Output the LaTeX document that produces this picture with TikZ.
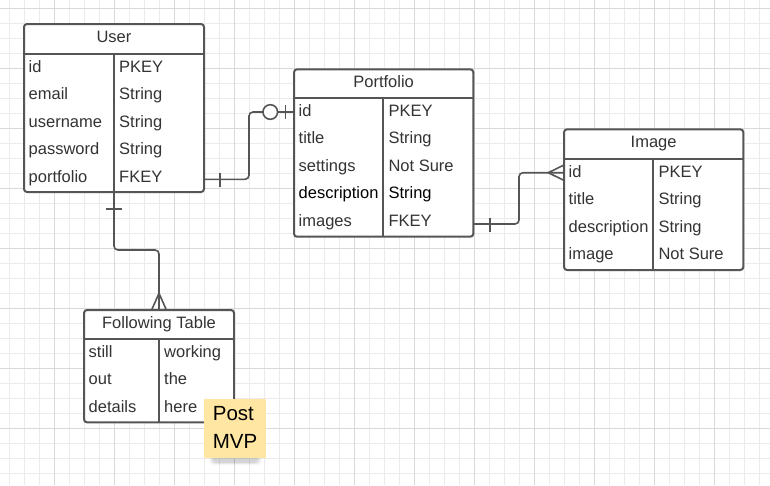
\documentclass[tikz,border=0pt]{standalone}
\usepackage{fontspec}
\setmainfont{Liberation Sans}
\usetikzlibrary{calc}
\definecolor{linec}{HTML}{555555}
\definecolor{textc}{HTML}{333333}
\definecolor{gridminor}{HTML}{EBEBEB}
\definecolor{gridmajor}{HTML}{D9D9D9}
\definecolor{stickyc}{HTML}{FFE6A2}
\newcommand{\cellfont}{\fontsize{16.5}{19}\selectfont}
\newcommand{\notefont}{\fontsize{20.5}{24}\selectfont}
\tikzset{
  tbl/.style={draw=linec, line width=2pt, rounded corners=3pt, fill=white,
    inner sep=0pt, outer sep=0pt, anchor=north west},
  tblline/.style={draw=linec, line width=2pt},
  cell/.style={anchor=base west, inner sep=0pt, text=textc, font=\cellfont},
  hdr/.style={anchor=base, inner sep=0pt, text=textc, font=\cellfont},
  conn/.style={draw=linec, line width=1.6pt, rounded corners=4pt},
  deco/.style={draw=linec, line width=1.6pt},
  notebox/.style={fill=stickyc, inner sep=0pt, outer sep=0pt, anchor=north west},
  notetext/.style={anchor=base west, inner sep=0pt, text=black, font=\notefont},
}
% #1 name, #2 x, #3 y, #4 width, #5 height, #6 header height, #7 column offset, #8 title, #9 rows
\newcommand{\ertable}[9]{%
  \node[tbl, minimum width=#4pt, minimum height=#5pt] (#1) at (#2,#3) {};
  \draw[tblline] ([yshift=-#6pt]#1.north west) -- ([yshift=-#6pt]#1.north east);
  \draw[tblline] ([xshift=#7pt,yshift=-#6pt]#1.north west) -- ([xshift=#7pt]#1.south west);
  \node[hdr] (#1-title) at ($(#1.north)+(0,18)$) {#8};
  \foreach \a/\b/\c [count=\k] in {#9}{
    \node[cell, text=\c] (#1-a\k) at ($(#1.north west)+(4.5,#6+18+27.5*\k-27.5)$) {\a};
    \node[cell, text=\c] (#1-b\k) at ($(#1.north west)+(#7+5,#6+18+27.5*\k-27.5)$) {\b};
  }
}
\begin{document}
\begin{tikzpicture}[x=1pt,y=-1pt]
\useasboundingbox (0,0) rectangle (770,485);
\fill[white] (0,0) rectangle (770,485);
% grid
\foreach \i in {0,...,50} \draw[gridminor, line width=1pt] (9.3+15*\i,0) -- (9.3+15*\i,485);
\foreach \j in {0,...,31} \draw[gridminor, line width=1pt] (0,8.3+15*\j) -- (770,8.3+15*\j);
\foreach \i in {0,...,11} \draw[gridmajor, line width=1pt] (54.3+60*\i,0) -- (54.3+60*\i,485);
\foreach \j in {0,...,7} \draw[gridmajor, line width=1pt] (0,8.3+60*\j) -- (770,8.3+60*\j);

% tables
\ertable{user}{24}{24}{180}{168}{30}{90}{User}{id/PKEY/textc, email/String/textc, username/String/textc, password/String/textc, portfolio/FKEY/textc}
\ertable{portfolio}{294}{69.3}{179.3}{167.4}{29}{89.3}{Portfolio}{id/PKEY/textc, title/String/textc, settings/Not Sure/textc, description/String/black, images/FKEY/textc}
\ertable{image}{564}{129.3}{179.3}{140.7}{29.7}{89.3}{Image}{id/PKEY/textc, title/String/textc, description/String/textc, image/Not Sure/textc}
\ertable{following}{84}{310}{150}{112.3}{29}{75}{Following Table}{still/working/textc, out/the/textc, details/here/textc}

% connector User -> Portfolio (one, optional one)
\draw[conn] (user.east |- 0,179.3) -- (249,179.3) -- (249,112) -- (portfolio.west |- 0,112);
\draw[deco] (220,172.5) -- (220,186.5);
\draw[deco, fill=white] (270.3,112) circle[radius=7.3];
\draw[deco] (285.3,105) -- (285.3,119);

% connector Portfolio -> Image (one to many)
\draw[conn] (portfolio.east |- 0,224) -- (519,224) -- (519,172.7) -- (image.west |- 0,172.7);
\draw[deco] (490,217.5) -- (490,231.5);
\draw[deco] (image.west |- 0,165) -- (548.3,172.7) -- (image.west |- 0,180.4);

% connector User -> Following Table (one to many)
\draw[conn] ([xshift=90pt]user.south west) -- (114,250) -- (159,250) -- ([xshift=75pt]following.north west);
\draw[deco] (106.3,209) -- (121.7,209);
\draw[deco] (151.6,310) -- (159,293.3) -- (166.4,310);

% sticky note with soft shadow
\foreach \s/\o in {5/0.025,4/0.03,3/0.035,2/0.04,1/0.045}{
  \fill[black, opacity=\o, rounded corners=4pt] (214-\s,457-\s*0.3) rectangle (257+\s,462+\s*0.6);
}
\node[notebox, minimum width=61.7pt, minimum height=59.3pt] (note) at (204,399) {};
\node[notetext] (note-post) at (212.7,420.7) {Post};
\node[notetext] (note-mvp) at (212.7,448.3) {MVP};
\end{tikzpicture}
\end{document}
